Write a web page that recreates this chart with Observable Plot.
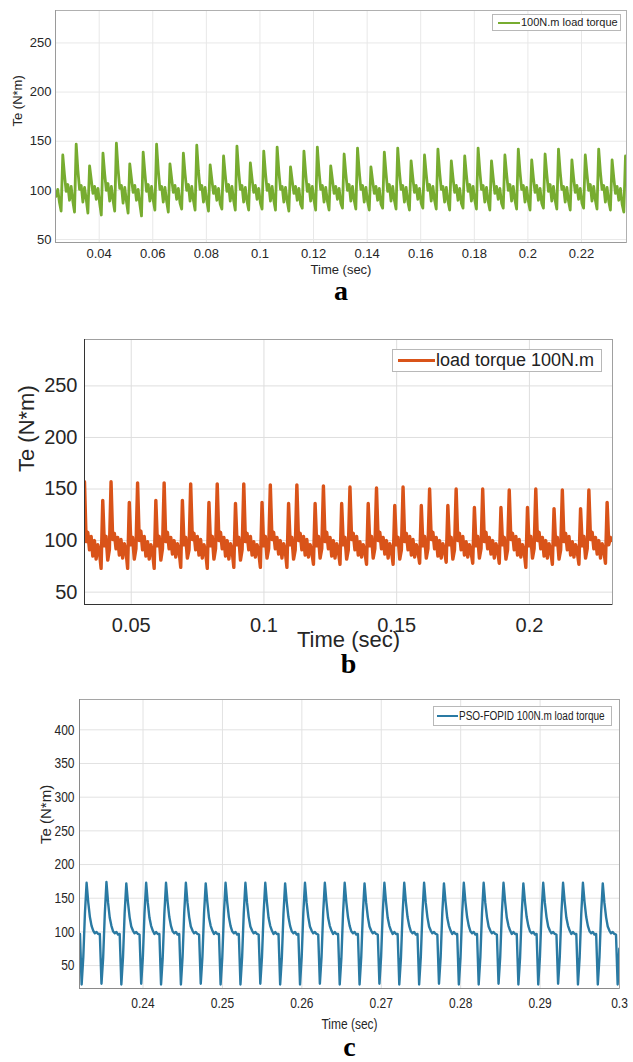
<!DOCTYPE html>
<html><head><meta charset="utf-8">
<script src="https://cdn.jsdelivr.net/npm/d3@7"></script>
<script src="https://cdn.jsdelivr.net/npm/@observablehq/plot@0.6"></script>
<style>
html,body{margin:0;padding:0;background:#fff}
body{width:633px;height:1062px;position:relative;overflow:hidden}
.chart{position:absolute;left:0}
.legend{position:absolute;background:#fff;border:1px solid #b8b8b8;box-sizing:border-box;color:#222;white-space:nowrap}
.legend .sw{position:absolute}
.legend .tx{position:absolute;top:0;transform-origin:0 50%}
</style>
</head><body>
<div id="root"></div>
<script>
// ---------- Panel a : 100N.m load torque (green) ----------
const legendA = "100N.m load torque";
const tStartA = 0.02392, dtA = 0.000625;
const valuesA = [
94,101,88,79,
136,116,99,106,90,104,89,78,
147,121,101,105,88,103,91,77,
125,111,97,104,91,102,87,75,
138,117,100,107,89,104,90,79,
148,122,102,105,87,103,89,77,
127,112,98,105,90,101,86,74,
139,118,99,106,89,104,90,80,
147,121,101,104,88,103,89,78,
127,112,98,105,91,102,87,81,
138,117,100,106,89,104,90,80,
146,120,101,105,88,103,89,79,
126,111,97,104,90,102,86,81,
135,116,99,106,89,104,90,80,
145,120,101,105,88,103,89,80,
128,112,98,105,91,102,87,81,
140,118,100,106,89,104,90,80,
144,120,101,104,88,103,89,79,
124,110,97,104,90,102,86,82,
140,118,99,106,89,104,90,80,
144,120,101,105,88,103,89,80,
125,111,97,104,91,102,87,82,
137,117,100,106,89,104,90,81,
143,120,101,105,88,103,89,80,
124,110,97,104,90,102,86,82,
139,118,99,106,89,104,90,81,
143,119,101,105,88,103,89,80,
130,113,98,105,91,102,87,82,
136,117,100,106,89,104,90,81,
142,119,101,104,88,103,89,80,
130,113,98,105,90,102,87,82,
135,116,99,106,89,104,90,81,
143,120,101,105,88,103,89,80,
130,113,97,104,91,102,87,82,
136,117,100,106,89,104,90,81,
142,119,101,105,88,103,89,80,
131,113,98,105,90,102,87,82,
137,117,99,106,89,104,90,81,
142,119,101,104,88,103,89,80,
131,113,98,105,91,102,87,82,
136,117,100,106,89,104,90,81,
142,119,101,105,88,103,89,80,
131,113,97,104,90,102,86,78,
135
];
const xTicksA = [0.04,0.06,0.08,0.1,0.12,0.14,0.16,0.18,0.2,0.22];
const yTicksA = [50,100,150,200,250];
const xDomainA = [0.0237,0.2368], yDomainA = [47,283];

// ---------- Panel b : load torque 100N.m (orange) ----------
const legendB = "load torque 100N.m";
const tStartB = 0.0324, dtB = 0.000625;
const valuesB = [
157,99,108,91,104,85,100,82,96,89,73,139,95,104,81,91,
157,101,107,92,103,86,101,83,97,90,73,137,96,103,82,92,
156,100,109,91,104,85,99,82,96,89,73,139,95,104,81,92,
156,99,108,92,103,87,100,84,97,90,74,139,96,103,83,91,
155,101,107,91,104,86,101,83,96,89,73,137,95,104,82,92,
155,100,108,92,103,85,100,82,97,90,74,136,96,103,81,91,
155,99,107,91,104,86,99,84,96,89,74,137,95,104,83,92,
154,101,108,92,103,87,100,83,97,90,74,136,96,103,82,91,
154,100,107,91,104,86,101,84,96,89,77,136,95,104,83,92,
153,99,108,92,103,85,100,83,97,90,77,136,96,103,82,91,
152,101,107,91,104,86,99,84,96,89,77,136,95,104,83,92,
151,100,108,92,103,87,100,83,97,90,77,134,96,103,82,91,
152,99,107,91,104,86,101,84,96,89,78,134,95,104,83,92,
150,101,108,92,103,85,100,83,97,90,79,134,96,103,82,91,
150,100,107,91,104,86,99,84,96,89,78,132,95,104,83,92,
150,99,108,92,103,87,100,83,97,90,78,132,96,103,82,91,
149,101,107,91,104,86,101,84,96,89,74,132,95,104,83,92,
150,100,108,92,103,85,100,83,97,90,77,131,96,103,82,91,
149,99,107,91,104,86,99,84,96,89,77,131,95,104,83,92,
149,101,108,92,103,87,100,83,97,90,78,137,96,103,100
];
const xTicksB = [0.05,0.1,0.15,0.2];
const yTicksB = [50,100,150,200,250];
const xDomainB = [0.0324,0.2313], yDomainB = [38,295];

// ---------- Panel c : PSO-FOPID 100N.m load torque (blue) ----------
const legendC = "PSO-FOPID 100N.m load torque";
const tStartC = 0.23206, dtC = 0.0025/12;
const valuesC = [
97,
22,62,128,173,144,122,109,102,98,100,97,97,
23,61,127,174,143,121,109,101,98,100,96,97,
22,62,128,172,144,122,108,102,98,100,97,96,
23,62,128,173,143,121,109,102,97,100,97,97,
22,61,127,173,144,122,109,101,98,100,96,97,
22,62,128,173,143,122,108,102,98,100,97,96,
23,62,128,172,144,121,109,102,97,100,97,97,
22,61,127,173,144,122,109,101,98,100,96,97,
22,62,128,173,143,122,108,102,98,100,97,96,
23,62,128,173,144,121,109,102,97,100,97,97,
22,61,127,172,144,122,109,101,98,100,96,97,
22,62,128,173,143,122,108,102,98,100,97,96,
23,62,128,173,144,121,109,102,97,100,97,97,
22,61,127,173,144,122,109,101,98,100,96,97,
22,62,128,172,143,122,108,102,98,100,97,96,
23,62,128,173,144,121,109,102,97,100,97,97,
22,61,127,173,144,122,109,101,98,100,96,97,
22,62,128,173,143,122,108,102,98,100,97,96,
23,62,128,172,144,121,109,102,97,100,97,97,
22,61,127,173,144,122,109,101,98,100,96,97,
22,62,128,173,143,122,108,102,98,100,97,96,
23,62,128,173,144,121,109,102,97,100,97,97,
22,61,127,172,144,122,109,101,98,100,96,97,
22,62,128,173,143,122,108,102,98,100,97,96,
23,62,128,173,144,121,109,102,97,100,97,97,
22,61,127,173,144,122,109,101,98,100,96,97,
22,62,128,172,143,122,108,102,98,100,97,96,
22,75
];
const xTicksC = [0.24,0.25,0.26,0.27,0.28,0.29,0.3];
const yTicksC = [50,100,150,200,250,300,350,400];
const xDomainC = [0.232,0.3], yDomainC = [16,445];

const xLabel = "Time (sec)", yLabel = "Te (N*m)";
const panelLetters = ["a","b","c"];

// ---------- drawing ----------
const SANS = '"Liberation Sans", Arial, Helvetica, sans-serif';
const root = document.getElementById("root");

// condense text horizontally (the reference panel c uses a narrow face)
function squeeze(svg, sx, keep) {
  svg.querySelectorAll("text").forEach(t => {
    if (keep.includes(t.textContent)) return;
    const w = t.getComputedTextLength();
    if (w > 0) {
      t.setAttribute("textLength", (w * sx).toFixed(2));
      t.setAttribute("lengthAdjust", "spacingAndGlyphs");
    }
  });
}

function panel(o) {
  const data = o.values.map((v, i) => ({t: o.t0 + i * o.dt, v}));
  const svg = Plot.plot({
    width: 633, height: o.height,
    marginTop: o.mt, marginBottom: o.mb, marginLeft: o.ml, marginRight: o.mr,
    x: {domain: o.xDomain}, y: {domain: o.yDomain},
    style: {fontFamily: SANS, fontSize: o.tickSize + "px", color: "#262626", background: "transparent", overflow: "visible"},
    marks: [
      Plot.gridX(o.xTicks, {stroke: o.grid, strokeOpacity: 1}),
      Plot.gridY(o.yTicks, {stroke: o.grid, strokeOpacity: 1}),
      Plot.line(data, {x: "t", y: "v", stroke: o.color, strokeWidth: o.sw, clip: true, strokeLinejoin: "round"}),
      Plot.frame({stroke: o.frame}),
      Plot.ruleX([o.xDomain[0]], {stroke: o.axisColor}),
      Plot.ruleY([o.yDomain[0]], {stroke: o.axisColor}),
      Plot.axisX(o.xTicks, {tickSize: 0, tickPadding: o.xPad, tickFormat: d => String(d), label: null, fontSize: o.tickSize}),
      Plot.axisY(o.yTicks, {tickSize: 0, tickPadding: o.yPad, tickFormat: d => String(d), label: null, fontSize: o.tickSize}),
      Plot.text([xLabel], {text: d => d, frameAnchor: "bottom", dy: o.xLabelDy, fontSize: o.labelSize, fill: "#262626"}),
      Plot.text([yLabel], {text: d => d, frameAnchor: "left", dx: o.yLabelDx, rotate: -90, fontSize: o.labelSize, fill: "#262626"}),
      Plot.text([o.letter], {text: d => d, frameAnchor: "bottom", dy: o.letterDy, fontSize: 28, fontWeight: "bold", fontFamily: '"Liberation Serif", "Times New Roman", serif', fill: "#000"})
    ]
  });
  const wrap = document.createElement("div");
  wrap.className = "chart";
  wrap.style.top = o.top + "px";
  wrap.appendChild(svg);
  root.appendChild(wrap);
  if (o.squeeze) squeeze(svg, o.squeeze, [yLabel, o.letter]);

  const lg = document.createElement("div");
  lg.className = "legend";
  Object.assign(lg.style, {left: o.lg.x + "px", top: o.lg.y + "px", width: o.lg.w + "px", height: o.lg.h + "px", fontFamily: SANS, fontSize: o.lg.fs + "px"});
  const sw = document.createElement("div");
  sw.className = "sw";
  Object.assign(sw.style, {left: o.lg.swx + "px", width: o.lg.sww + "px", height: o.lg.swh + "px", top: ((o.lg.h - 2 - o.lg.swh) / 2) + "px", background: o.color});
  const tx = document.createElement("div");
  tx.className = "tx";
  Object.assign(tx.style, {left: o.lg.tx + "px", lineHeight: (o.lg.h - 2) + "px"});
  if (o.squeeze) tx.style.transform = `scaleX(${o.squeeze})`;
  tx.textContent = o.lg.text;
  lg.appendChild(sw); lg.appendChild(tx);
  root.appendChild(lg);
}

panel({values: valuesA, t0: tStartA, dt: dtA, color: "#77ac30", sw: 2.8,
  xDomain: xDomainA, yDomain: yDomainA, xTicks: xTicksA, yTicks: yTicksA,
  top: 0, height: 305, mt: 10, mb: 63, ml: 55, mr: 7,
  tickSize: 13, labelSize: 13, xPad: 6, yPad: 4,
  xLabelDy: 31, yLabelDx: -38, letter: panelLetters[0], letterDy: 57,
  grid: "#e8e8e8", frame: "#b0b0b0", axisColor: "#9a9a9a",
  lg: {x: 492, y: 14, w: 129, h: 17, fs: 11, swx: 5, sww: 22, swh: 2, tx: 28, text: legendA}});

panel({values: valuesB, t0: tStartB, dt: dtB, color: "#d95319", sw: 3.4,
  xDomain: xDomainB, yDomain: yDomainB, xTicks: xTicksB, yTicks: yTicksB,
  top: 310, height: 372, mt: 29, mb: 78, ml: 84, mr: 21,
  tickSize: 20, labelSize: 22, xPad: 13, yPad: 7,
  xLabelDy: 42, yLabelDx: -58, letter: panelLetters[1], letterDy: 68,
  grid: "#dedede", frame: "#a0a0a0", axisColor: "#333",
  lg: {x: 392, y: 349, w: 210, h: 23, fs: 18, swx: 5, sww: 37, swh: 3, tx: 43, text: legendB}});

panel({values: valuesC, t0: tStartC, dt: dtC, color: "#2a7aa3", sw: 2.4,
  xDomain: xDomainC, yDomain: yDomainC, xTicks: xTicksC, yTicks: yTicksC,
  top: 682, height: 380, mt: 17, mb: 74, ml: 79, mr: 14,
  tickSize: 15, labelSize: 15, xPad: 9, yPad: 5, squeeze: 0.8,
  xLabelDy: 40, yLabelDx: -33, letter: panelLetters[2], letterDy: 67,
  grid: "#e2e2e2", frame: "#a5a5a5", axisColor: "#8a8a8a",
  lg: {x: 433, y: 706, w: 179, h: 20, fs: 12.5, swx: 3, sww: 21, swh: 2, tx: 25, text: legendC}});
</script>
</body></html>
